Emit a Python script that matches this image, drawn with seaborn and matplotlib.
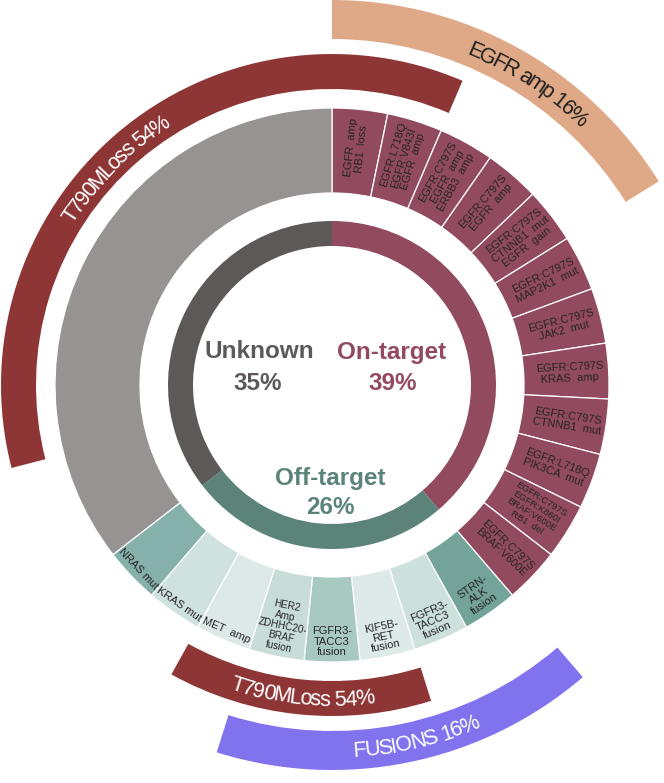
import numpy as np
import matplotlib
matplotlib.use("Agg")
import matplotlib.pyplot as plt
from matplotlib.font_manager import FontProperties
import seaborn as sns

# ---- data ----
group_names = ["On-target", "Off-target", "Unknown"]
group_pct = ["39%", "26%", "35%"]
group_counts = [12, 8, 11]

on_target_labels = [
    "EGFR  amp\nRB1  loss",
    "EGFR:L718Q\nEGFR:V843I\nEGFR  amp",
    "EGFR:C797S\nEGFR  amp\nERBB3  amp",
    "EGFR:C797S\nEGFR  amp",
    "EGFR:C797S\nCTNNB1  mut\nEGFR  gain",
    "EGFR:C797S\nMAP2K1  mut",
    "EGFR:C797S\nJAK2  mut",
    "EGFR:C797S\nKRAS  amp",
    "EGFR:C797S\nCTNNB1  mut",
    "EGFR:L718Q\nPIK3CA  mut",
    "EGFR:C797S\nEGFR:K860I\nBRAF:V600E\nRB1  del",
    "EGFR:C797S\nBRAF:V600E",
]
off_target_labels = [
    "STRN-\nALK\nfusion",
    "FGFR3-\nTACC3\nfusion",
    "KIF5B-\nRET\nfusion",
    "FGFR3-\nTACC3\nfusion",
    "HER2\nAmp\nZDHHC20-\nBRAF\nfusion",
    "MET  amp",
    "KRAS mut",
    "NRAS mut",
]
off_target_colors = ["#74A39A", "#CCE1DC", "#DDEAE7", "#A8C8C2",
                     "#C9DDD8", "#DDE9E6", "#CFE2DF", "#86B1AA"]

# case indices (clockwise from 12 o'clock) covered by each outer band
t790m_loss_cases = [0, 1, 14, 15, 16, 17, 22, 23, 24, 25, 26, 27, 28, 29, 30]
egfr_amp_cases = [0, 1, 2, 3, 4]
fusion_cases = [12, 13, 14, 15, 16]

# ---- colours ----
on_col = "#924A5F"
off_col = "#5B837A"
unk_col = "#5E5959"
unk_mid = "#979393"
red_col = "#8E3636"
egfr_col = "#DFA987"
fus_col = "#8172EE"

sns.set_theme(style="white")
plt.rcParams["font.family"] = ["Liberation Sans", "DejaVu Sans"]

fig = plt.figure(figsize=(6.64, 7.83), dpi=100)
ax = fig.add_axes([0, 0, 1, 1])

n_cases = sum(group_counts)

# inner ring
ax.pie(group_counts, radius=164, startangle=90, counterclock=False,
       colors=[on_col, off_col, unk_col],
       wedgeprops=dict(width=25, linewidth=0))

# middle ring
mid_vals = [1] * group_counts[0] + [1] * group_counts[1] + [group_counts[2]]
mid_cols = [on_col] * group_counts[0] + off_target_colors + [unk_mid]
mid_wedges, _ = ax.pie(mid_vals, radius=277, startangle=90, counterclock=False,
                       colors=mid_cols,
                       wedgeprops=dict(width=85, edgecolor="white", linewidth=0.9))


def band(cases, color, radius, width):
    flags = [1 if i in cases else 0 for i in range(n_cases)]
    # start where a gap begins so a covered run is never split at 12 o'clock
    k = next(i for i in range(n_cases) if flags[i] == 0 and flags[i - 1] == 1)
    flags = flags[k:] + flags[:k]
    runs, cols = [], []
    for f in flags:
        if runs and cols[-1] == (color if f else "none"):
            runs[-1] += 1
        else:
            runs.append(1)
            cols.append(color if f else "none")
    ax.pie(runs, radius=radius, startangle=90 - k * 360 / n_cases,
           counterclock=False, colors=cols,
           wedgeprops=dict(width=width, linewidth=0))


band(t790m_loss_cases, red_col, 331, 35)
band(egfr_amp_cases, egfr_col, 385, 39)
band(fusion_cases, fus_col, 385, 39)

# segment labels
for w, lab in zip(mid_wedges[:12], on_target_labels):
    a = (w.theta1 + w.theta2) / 2
    a = (a + 180) % 360 - 180
    r = 238
    fs = 6.8 if lab.count("\n") > 2 else 8.0
    ax.text(r * np.cos(np.radians(a)), r * np.sin(np.radians(a)), lab,
            rotation=a, rotation_mode="anchor", ha="center", va="center",
            fontsize=fs, color="#262626", linespacing=1.05, multialignment="center")

for w, lab in zip(mid_wedges[12:20], off_target_labels):
    a = (w.theta1 + w.theta2) / 2
    rot = (a + 90 + 180) % 360 - 180
    r = 272
    fs = 7.2 if lab.count("\n") > 2 else 8.0
    ax.text(r * np.cos(np.radians(a)), r * np.sin(np.radians(a)), lab,
            rotation=rot, rotation_mode="anchor", ha="center", va="bottom",
            fontsize=fs, color="#262626", linespacing=1.05, multialignment="center")


def arc_text(s, r, mid, size, color, clockwise):
    renderer = fig.canvas.get_renderer()
    prop = FontProperties(family=["Liberation Sans"], size=size)
    ws = []
    for ch in s:
        if ch == " ":
            w = (renderer.get_text_width_height_descent("a a", prop, False)[0]
                 - renderer.get_text_width_height_descent("aa", prop, False)[0])
        else:
            w = renderer.get_text_width_height_descent(ch, prop, False)[0]
        ws.append(w * 0.88)
    total = np.degrees(sum(ws) / r)
    cap = 0.72 * size * fig.dpi / 72
    cum = 0
    for ch, w in zip(s, ws):
        off = np.degrees((cum + w / 2) / r)
        cum += w
        if clockwise:
            a = mid + total / 2 - off
            rot = a - 90
            rb = r - cap / 2
        else:
            a = mid - total / 2 + off
            rot = a + 90
            rb = r + cap / 2
        ax.text(rb * np.cos(np.radians(a)), rb * np.sin(np.radians(a)), ch,
                rotation=rot, rotation_mode="anchor", ha="center", va="baseline",
                fontproperties=prop, color=color)


arc_text("T790MLoss 54%", 313, 135, 15.5, "white", True)
arc_text("T790MLoss 54%", 313, 264.5, 15.5, "white", False)
arc_text("EGFR amp 16%", 365, 57, 15.5, "#1f1f1f", True)
arc_text("FUSIONS 16%", 365, 283.4, 15.5, "white", False)

# centre labels
ax.text(60, 33, group_names[0], ha="center", va="center", fontsize=17.5,
        fontweight="bold", color=on_col)
ax.text(61, 2, group_pct[0], ha="center", va="center", fontsize=17.5,
        fontweight="bold", color=on_col)
ax.text(-2, -93, group_names[1], ha="center", va="center", fontsize=17.5,
        fontweight="bold", color=off_col)
ax.text(-2, -123, group_pct[1], ha="center", va="center", fontsize=17.5,
        fontweight="bold", color=off_col)
ax.text(-73, 33, group_names[2], ha="center", va="center", fontsize=17.5,
        fontweight="bold", color=unk_col)
ax.text(-74, 2, group_pct[2], ha="center", va="center", fontsize=17.5,
        fontweight="bold", color=unk_col)

ax.set_xlim(-332, 332)
ax.set_ylim(-398, 385)
ax.set_aspect("equal")
ax.axis("off")

fig.savefig("out.png", dpi=100, facecolor="white")
